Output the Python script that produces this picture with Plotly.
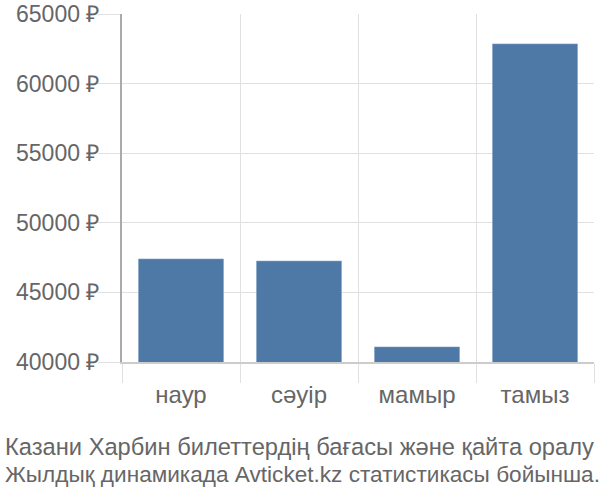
import plotly.graph_objects as go

months = ["наур", "сәуір", "мамыр", "тамыз"]
prices = [47400, 47250, 41080, 62850]
y_ticks = [40000, 45000, 50000, 55000, 60000, 65000]
y_labels = [f"{v} ₽" for v in y_ticks]
title_lines = ["Казани Харбин билеттердің бағасы және қайта оралу",
               "Жылдық динамикада Avticket.kz статистикасы бойынша."]
title_sizes = [23.7, 22.6]

fig = go.Figure()
fig.add_trace(go.Bar(x=months, y=prices, width=0.72,
                     marker=dict(color="#4e79a7", line=dict(color="#7f9fc4", width=0.6))))

fig.update_layout(
    width=600, height=500,
    margin=dict(l=122, r=6, t=14, b=138),
    paper_bgcolor="white", plot_bgcolor="white",
    font=dict(family="Liberation Sans, Arial, sans-serif", color="#666666"),
    showlegend=False,
)
# two caption lines under the chart
for i, line in enumerate(title_lines):
    fig.add_annotation(text=line, xref="paper", yref="paper", x=0, y=0,
                       xanchor="left", yanchor="middle", xshift=-119, yshift=-85 - 27 * i,
                       showarrow=False, font=dict(size=title_sizes[i], color="#666666"))

fig.update_xaxes(type="category", tickson="boundaries", range=[-0.5, 3.5],
                 automargin=False,
                 showgrid=True, gridcolor="#e0e0e0", gridwidth=1,
                 ticks="outside", ticklen=19, tickcolor="#e0e0e0",
                 ticklabelstandoff=10,
                 showline=True, linecolor="#cccccc", linewidth=2,
                 tickfont=dict(size=24, color="#666666"))
fig.update_yaxes(range=[40000, 65000], tickvals=y_ticks, ticktext=y_labels,
                 automargin=False,
                 showgrid=True, gridcolor="#e0e0e0", gridwidth=1,
                 ticks="outside", ticklen=22, tickcolor="#e0e0e0",
                 ticklabelstandoff=-6,
                 showline=True, linecolor="#aaaaaa", linewidth=2,
                 zeroline=False,
                 tickfont=dict(size=23, color="#666666"))

fig.write_html("out.html", config={"displayModeBar": False},
               post_script="document.body.style.margin='0';")
